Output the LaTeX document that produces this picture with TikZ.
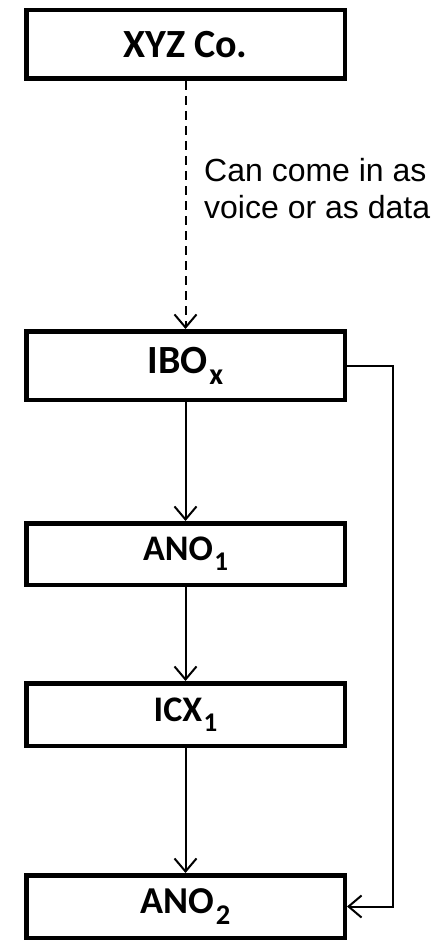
\documentclass[tikz,border=0pt]{standalone}
\usepackage{fontspec}
\usepackage{graphicx}
\setmainfont{Carlito}
\newfontfamily\labelfont{Liberation Sans}
\usetikzlibrary{arrows.meta}
\newcommand\mysub[1]{\kern0.04em\raisebox{-0.28em}{\scalebox{0.75}{#1}}}
\begin{document}
\begin{tikzpicture}[x=1pt,y=1pt,
  box/.style={draw=black,line width=4.5pt,minimum width=318.5pt,inner sep=0pt,font=\bfseries},
  conn/.style={line width=2pt,-{Straight Barb[length=13pt,width=22pt,line width=2pt]}},
  lbl/.style={font=\labelfont\fontsize{32}{36}\selectfont,anchor=base west,inner sep=0pt}]
\useasboundingbox (0,0) rectangle (439,-944);
\node[box,minimum height=68.5pt,font=\bfseries\fontsize{40}{44}\selectfont] (xyz) at (185.5,-44.5) {XYZ Co.};
\node[box,minimum height=68.5pt,font=\bfseries\fontsize{40}{44}\selectfont] (ibo) at (185.5,-365.5) {IBO\mysub{x}};
\node[box,minimum height=61.5pt,font=\bfseries\fontsize{36}{40}\selectfont] (ano1) at (185.5,-554) {ANO\mysub{1}};
\node[box,minimum height=62.5pt,font=\bfseries\fontsize{36}{40}\selectfont] (icx1) at (185.5,-714.5) {ICX\mysub{1}};
\node[box,minimum height=62.5pt,font=\bfseries\fontsize{38}{42}\selectfont] (ano2) at (185.5,-906.5) {ANO\mysub{2}};
\node[lbl] (l1) at (204,-182) {Can come in as};
\node[lbl] (l2) at (204,-218) {voice or as data};
\coordinate (rt) at (393,-365.5);
\coordinate (rb) at (393,-906.5);
\draw[conn,dash pattern=on 9pt off 6pt] (xyz) -- (ibo);
\draw[conn] (ibo) -- (ano1);
\draw[conn] (ano1) -- (icx1);
\draw[conn] (icx1) -- (ano2);
\draw[conn] (ibo.east) -- (rt) -- (rb) -- (ano2.east);
\end{tikzpicture}
\end{document}
